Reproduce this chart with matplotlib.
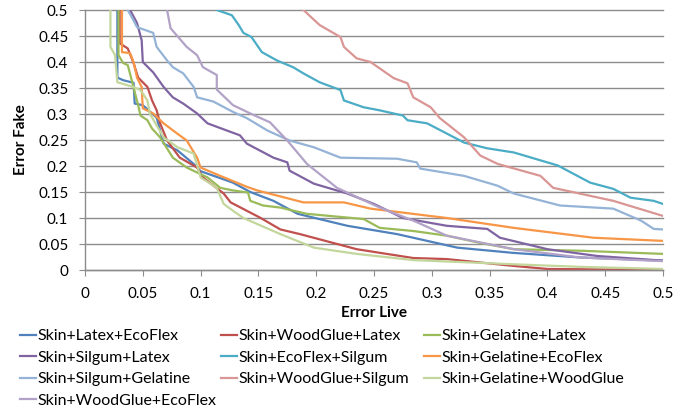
import matplotlib
matplotlib.use("Agg")
import matplotlib.pyplot as plt
from matplotlib.lines import Line2D

# ---------------------------------------------------------------
# Data (Error Live vs Error Fake)
# ---------------------------------------------------------------
names = ["Skin+Latex+EcoFlex", "Skin+WoodGlue+Latex", "Skin+Gelatine+Latex",
         "Skin+Silgum+Latex", "Skin+EcoFlex+Silgum", "Skin+Gelatine+EcoFlex",
         "Skin+Silgum+Gelatine", "Skin+WoodGlue+Silgum", "Skin+Gelatine+WoodGlue",
         "Skin+WoodGlue+EcoFlex"]

colors = ["#4F81BD", "#C0504D", "#9BBB59", "#8064A2", "#4BACC6",
          "#F79646", "#95B3D7", "#D99694", "#C3D69B", "#B3A2C7"]

latex_eco_x = [0.028, 0.028, 0.033, 0.042, 0.043, 0.05, 0.062, 0.068, 0.08, 0.094,
               0.1, 0.128, 0.143, 0.163, 0.184, 0.227, 0.27, 0.322, 0.37, 0.429, 0.5]
latex_eco_y = [0.5, 0.37, 0.365, 0.36, 0.32, 0.317, 0.293, 0.243, 0.23, 0.204,
               0.19, 0.168, 0.15, 0.133, 0.108, 0.085, 0.069, 0.043, 0.033, 0.024, 0.018]

wood_latex_x = [0.03, 0.03, 0.037, 0.042, 0.046, 0.054, 0.058, 0.062, 0.065, 0.071,
                0.082, 0.097, 0.102, 0.12, 0.126, 0.152, 0.169, 0.186, 0.235, 0.284,
                0.313, 0.37, 0.4, 0.5]
wood_latex_y = [0.5, 0.436, 0.426, 0.398, 0.37, 0.352, 0.326, 0.307, 0.282, 0.249,
                0.216, 0.197, 0.178, 0.147, 0.13, 0.1, 0.078, 0.069, 0.04, 0.023,
                0.021, 0.008, 0.002, 0.0]

gel_latex_x = [0.029, 0.029, 0.033, 0.037, 0.041, 0.043, 0.046, 0.048, 0.054, 0.058,
               0.065, 0.076, 0.088, 0.106, 0.117, 0.128, 0.141, 0.143, 0.154, 0.169,
               0.192, 0.241, 0.255, 0.284, 0.313, 0.342, 0.371, 0.429, 0.5]
gel_latex_y = [0.5, 0.413, 0.398, 0.394, 0.36, 0.342, 0.317, 0.297, 0.288, 0.272,
               0.255, 0.216, 0.197, 0.178, 0.158, 0.153, 0.149, 0.133, 0.124, 0.12,
               0.108, 0.098, 0.081, 0.075, 0.066, 0.052, 0.04, 0.037, 0.031]

silg_latex_x = [0.039, 0.045, 0.049, 0.05, 0.059, 0.068, 0.076, 0.085, 0.097, 0.106,
                0.123, 0.134, 0.14, 0.163, 0.175, 0.177, 0.198, 0.227, 0.25, 0.275,
                0.313, 0.348, 0.359, 0.4, 0.443, 0.5]
silg_latex_y = [0.5, 0.475, 0.442, 0.4, 0.38, 0.352, 0.332, 0.32, 0.301, 0.282,
                0.268, 0.259, 0.243, 0.216, 0.207, 0.191, 0.166, 0.147, 0.127, 0.1,
                0.085, 0.079, 0.062, 0.04, 0.027, 0.018]

eco_silg_x = [0.114, 0.127, 0.133, 0.137, 0.144, 0.153, 0.166, 0.18, 0.189, 0.203,
              0.221, 0.224, 0.241, 0.255, 0.275, 0.279, 0.296, 0.328, 0.348, 0.371,
              0.409, 0.437, 0.457, 0.472, 0.492, 0.5]
eco_silg_y = [0.5, 0.49, 0.471, 0.456, 0.448, 0.419, 0.403, 0.39, 0.378, 0.361,
              0.346, 0.326, 0.313, 0.307, 0.297, 0.288, 0.282, 0.245, 0.234, 0.226,
              0.201, 0.168, 0.156, 0.139, 0.133, 0.127]

gel_eco_x = [0.032, 0.032, 0.039, 0.042, 0.045, 0.049, 0.05, 0.059, 0.068, 0.08,
             0.088, 0.097, 0.1, 0.117, 0.14, 0.149, 0.189, 0.224, 0.247, 0.313,
             0.371, 0.44, 0.5]
gel_eco_y = [0.5, 0.419, 0.417, 0.4, 0.37, 0.352, 0.311, 0.301, 0.282, 0.262,
             0.249, 0.216, 0.197, 0.181, 0.16, 0.153, 0.13, 0.13, 0.118, 0.1,
             0.081, 0.062, 0.056]

silg_gel_x = [0.037, 0.042, 0.045, 0.059, 0.062, 0.071, 0.076, 0.085, 0.094, 0.097,
              0.111, 0.128, 0.14, 0.158, 0.177, 0.198, 0.221, 0.27, 0.287, 0.29,
              0.328, 0.357, 0.371, 0.411, 0.457, 0.481, 0.492, 0.5]
silg_gel_y = [0.5, 0.48, 0.467, 0.456, 0.429, 0.403, 0.39, 0.378, 0.352, 0.332,
              0.324, 0.304, 0.292, 0.268, 0.249, 0.236, 0.216, 0.214, 0.207, 0.195,
              0.181, 0.162, 0.147, 0.124, 0.118, 0.095, 0.079, 0.078]

wood_silg_x = [0.189, 0.203, 0.221, 0.224, 0.235, 0.247, 0.267, 0.279, 0.284, 0.299,
               0.307, 0.328, 0.342, 0.357, 0.394, 0.405, 0.457, 0.5]
wood_silg_y = [0.5, 0.471, 0.448, 0.429, 0.407, 0.4, 0.369, 0.359, 0.332, 0.313,
               0.292, 0.255, 0.22, 0.204, 0.181, 0.158, 0.133, 0.104]

gel_wood_x = [0.022, 0.022, 0.026, 0.028, 0.042, 0.048, 0.054, 0.056, 0.068, 0.08,
              0.094, 0.1, 0.114, 0.12, 0.128, 0.137, 0.169, 0.198, 0.235, 0.284,
              0.328, 0.371, 0.429, 0.5]
gel_wood_y = [0.5, 0.429, 0.413, 0.361, 0.352, 0.346, 0.326, 0.301, 0.255, 0.236,
              0.224, 0.178, 0.158, 0.127, 0.114, 0.1, 0.069, 0.043, 0.031, 0.019,
              0.015, 0.011, 0.006, 0.002]

wood_eco_x = [0.071, 0.074, 0.088, 0.097, 0.102, 0.114, 0.114, 0.128, 0.143, 0.16,
              0.175, 0.192, 0.218, 0.255, 0.284, 0.313, 0.371, 0.429, 0.5]
wood_eco_y = [0.5, 0.465, 0.429, 0.413, 0.39, 0.375, 0.347, 0.317, 0.301, 0.284,
              0.249, 0.204, 0.158, 0.12, 0.095, 0.066, 0.04, 0.024, 0.017]

series_x = [latex_eco_x, wood_latex_x, gel_latex_x, silg_latex_x, eco_silg_x,
            gel_eco_x, silg_gel_x, wood_silg_x, gel_wood_x, wood_eco_x]
series_y = [latex_eco_y, wood_latex_y, gel_latex_y, silg_latex_y, eco_silg_y,
            gel_eco_y, silg_gel_y, wood_silg_y, gel_wood_y, wood_eco_y]

ticks = [0, 0.05, 0.1, 0.15, 0.2, 0.25, 0.3, 0.35, 0.4, 0.45, 0.5]

# ---------------------------------------------------------------
# Figure
# ---------------------------------------------------------------
plt.rcParams['font.family'] = ['Lato', 'DejaVu Sans']
plt.rcParams['font.size'] = 11

W, H = 685, 412
fig = plt.figure(figsize=(W / 100, H / 100), dpi=100)
ax = fig.add_axes([85 / W, 1 - 270 / H, (663 - 85) / W, (270 - 10) / H])

for xs, ys, c in zip(series_x, series_y, colors):
    ax.plot(xs, ys, color=c, lw=1.6, solid_joinstyle='round')

ax.set_xlim(0, 0.5)
ax.set_ylim(0, 0.5)
ax.set_xticks(ticks)
ax.set_yticks(ticks)
ax.set_xticklabels([f"{t:g}" for t in ticks])
ax.set_yticklabels([f"{t:g}" for t in ticks])

grid_c = "#8C8C8C"
ax.yaxis.grid(True, color=grid_c, lw=1.0, clip_on=False)
ax.set_axisbelow(True)
for s in ["top", "right"]:
    ax.spines[s].set_visible(False)
for s in ["left", "bottom"]:
    ax.spines[s].set_color(grid_c)
    ax.spines[s].set_linewidth(1.0)
ax.tick_params(axis='x', direction='out', length=4, color=grid_c, pad=8)
ax.tick_params(axis='y', direction='out', length=4, color=grid_c, pad=8)

ax.set_xlabel("Error Live", fontweight='bold', labelpad=4)
ax.set_ylabel("Error Fake", fontweight='bold', labelpad=7)

# legend laid out row by row, one legend per column
handles = [Line2D([], [], color=c, lw=1.6) for c in colors]
col_x = [20, 221, 424]
for k in range(3):
    fig.legend(handles[k::3], names[k::3], loc='upper left',
               bbox_to_anchor=(col_x[k] / W, 1 - 329 / H), frameon=False,
               handlelength=1.0, handletextpad=0.1, labelspacing=0.46,
               borderpad=0, borderaxespad=0, fontsize=11.5)

fig.savefig("out.png", dpi=100)
